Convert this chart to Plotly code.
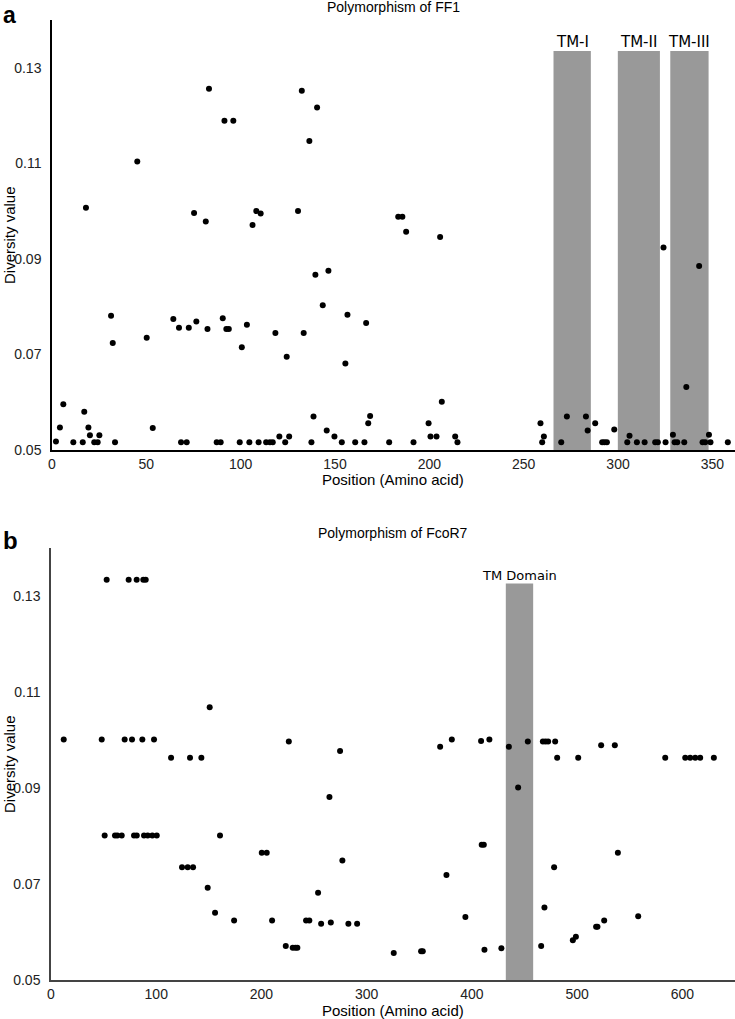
import plotly.graph_objects as go

# ---------------- Data ----------------
# Panel a: Polymorphism of FF1
a_pos = [83.2, 91.4, 96.1, 45.2, 18.0, 75.3, 81.5, 106.3, 108.3, 110.6,
         132.4, 140.5, 136.4, 130.4, 183.5, 185.7, 187.7, 205.7,
         139.6, 146.5, 143.5, 156.6, 166.5,
         31.3, 32.2, 50.2, 64.3, 67.3, 72.5, 76.5, 82.4, 90.5, 92.4, 93.7, 103.3, 100.6,
         118.4, 133.4, 124.4, 155.5, 206.6,
         138.6, 168.6, 167.6, 199.6, 145.6, 149.7, 120.5, 125.7, 200.6, 203.8, 213.7,
         6.0, 4.2, 17.1, 19.3, 20.1, 25.1, 2.1, 53.4,
         11.3, 16.3, 22.4, 24.2, 33.4, 68.4, 71.4, 87.3, 89.4, 99.5, 104.6, 109.5,
         113.5, 115.5, 117.0, 123.6, 137.5, 153.6, 160.7, 165.6, 178.7, 191.6, 214.9,
         259.8, 269.9, 291.6, 292.8, 294.1, 304.9, 310.0, 314.1, 319.7, 321.1, 325.2,
         330.0, 331.4, 335.1, 344.8, 346.2, 349.0, 358.2,
         258.9, 260.7, 272.9, 283.0, 283.9, 287.9, 298.0, 306.1, 324.1, 329.1, 336.2,
         343.0, 348.2]
a_div = [0.1256, 0.1189, 0.1189, 0.1104, 0.1007, 0.0996, 0.0978, 0.0971, 0.1000, 0.0995,
         0.1252, 0.1217, 0.1147, 0.1000, 0.0988, 0.0988, 0.0957, 0.0946,
         0.0867, 0.0875, 0.0803, 0.0783, 0.0766,
         0.0781, 0.0724, 0.0735, 0.0774, 0.0756, 0.0756, 0.0769, 0.0753, 0.0776, 0.0753, 0.0753, 0.0762, 0.0715,
         0.0745, 0.0745, 0.0695, 0.0681, 0.0601,
         0.0570, 0.0571, 0.0556, 0.0556, 0.0541, 0.0528, 0.0528, 0.0528, 0.0528, 0.0528, 0.0528,
         0.0596, 0.0547, 0.0580, 0.0547, 0.0531, 0.0531, 0.0518, 0.0546,
         0.0516, 0.0516, 0.0516, 0.0516, 0.0516, 0.0516, 0.0516, 0.0516, 0.0516, 0.0516, 0.0516, 0.0516,
         0.0516, 0.0516, 0.0516, 0.0516, 0.0516, 0.0516, 0.0516, 0.0516, 0.0516, 0.0516, 0.0516,
         0.0516, 0.0516, 0.0516, 0.0516, 0.0516, 0.0516, 0.0516, 0.0516, 0.0516, 0.0516, 0.0516,
         0.0516, 0.0516, 0.0516, 0.0516, 0.0516, 0.0516, 0.0516,
         0.0556, 0.0528, 0.0570, 0.0570, 0.0541, 0.0556, 0.0543, 0.0530, 0.0924, 0.0532, 0.0632,
         0.0885, 0.0532]
a_tm_names = ["TM-I", "TM-II", "TM-III"]
a_tm_start = [265.8, 299.9, 327.7]
a_tm_end = [285.6, 322.2, 348.0]
a_tm_top = 0.1335

# Panel b: Polymorphism of FcoR7
b_pos = [52.9, 73.8, 81.4, 87.7, 90.0,
         12.1, 48.2, 70.0, 77.0, 86.8, 97.9, 226.0, 380.9, 408.7, 416.6, 453.1, 467.4, 469.9, 472.4, 479.1,
         369.8, 435.1, 522.8, 535.8, 274.7, 150.8,
         114.1, 132.1, 142.9, 481.0, 501.0, 583.7, 602.7, 607.4, 612.2, 616.9, 629.9,
         443.9, 264.6,
         51.0, 60.8, 63.0, 67.2, 78.9, 81.5, 88.4, 91.9, 96.3, 100.5, 160.6,
         409.3, 411.3, 200.3, 205.0, 538.7, 276.9, 124.5, 129.9, 135.0, 478.1,
         375.8, 148.9, 253.8, 468.9, 155.9, 558.0, 393.8,
         174.0, 210.1, 242.4, 245.5, 525.7, 265.9, 256.7, 282.6, 290.9, 518.0, 519.3,
         498.8, 495.9, 223.1, 465.8, 229.7, 232.2, 234.1, 428.0, 411.9, 351.7, 353.3, 325.7]
b_div = [0.1334, 0.1334, 0.1334, 0.1334, 0.1334,
         0.1001, 0.1001, 0.1001, 0.1001, 0.1001, 0.1001, 0.0997, 0.1001, 0.0998, 0.1001, 0.0997, 0.0997, 0.0997, 0.0997, 0.0997,
         0.0986, 0.0986, 0.0989, 0.0989, 0.0977, 0.1068,
         0.0963, 0.0963, 0.0963, 0.0963, 0.0963, 0.0963, 0.0963, 0.0963, 0.0963, 0.0963, 0.0963,
         0.0901, 0.0881,
         0.0801, 0.0801, 0.0801, 0.0801, 0.0801, 0.0801, 0.0801, 0.0801, 0.0801, 0.0801, 0.0801,
         0.0782, 0.0782, 0.0765, 0.0765, 0.0765, 0.0749, 0.0735, 0.0735, 0.0735, 0.0735,
         0.0719, 0.0692, 0.0682, 0.0651, 0.0640, 0.0633, 0.0631,
         0.0624, 0.0624, 0.0624, 0.0624, 0.0624, 0.0620, 0.0617, 0.0617, 0.0617, 0.0611, 0.0611,
         0.0590, 0.0583, 0.0571, 0.0571, 0.0567, 0.0567, 0.0567, 0.0566, 0.0563, 0.0560, 0.0560, 0.0556]
b_tm_names = ["TM Domain"]
b_tm_start = [432.2]
b_tm_end = [458.2]
b_tm_top = 0.1326

y_ticks = [0.05, 0.07, 0.09, 0.11, 0.13]
y_ticklabels = ["0.05", "0.07", "0.09", "0.11", "0.13"]
a_xticks = [0, 50, 100, 150, 200, 250, 300, 350]
b_xticks = [0, 100, 200, 300, 400, 500, 600]

# ---------------- Layout helpers ----------------
W, H = 735, 1019
def px_x(p):
    return p / W
def px_y(p):
    return 1 - p / H

FONT = "Liberation Sans, Arial, sans-serif"
TMFONT = "DejaVu Sans, Verdana, sans-serif"

fig = go.Figure()
fig.add_trace(go.Scatter(x=a_pos, y=a_div, mode="markers",
                         marker=dict(color="black", size=6), xaxis="x", yaxis="y",
                         showlegend=False, hoverinfo="x+y"))
fig.add_trace(go.Scatter(x=b_pos, y=b_div, mode="markers",
                         marker=dict(color="black", size=6), xaxis="x2", yaxis="y2",
                         showlegend=False, hoverinfo="x+y"))

shapes = []
annotations = []
for name, s, e in zip(a_tm_names, a_tm_start, a_tm_end):
    shapes.append(dict(type="rect", xref="x", yref="y", x0=s, x1=e, y0=0.05, y1=a_tm_top,
                       fillcolor="#999999", line=dict(width=0), layer="below"))
    annotations.append(dict(x=(s + e) / 2, y=a_tm_top, xref="x", yref="y", text=name,
                            showarrow=False, yanchor="bottom", yshift=-2,
                            font=dict(family=TMFONT, size=15, color="black")))
for name, s, e in zip(b_tm_names, b_tm_start, b_tm_end):
    shapes.append(dict(type="rect", xref="x2", yref="y2", x0=s, x1=e, y0=0.05, y1=b_tm_top,
                       fillcolor="#999999", line=dict(width=0), layer="below"))
    annotations.append(dict(x=(s + e) / 2, y=b_tm_top, xref="x2", yref="y2", text=name,
                            showarrow=False, yanchor="bottom", yshift=-1,
                            font=dict(family=TMFONT, size=13, color="black")))

# Titles, panel letters, axis titles
annotations += [
    dict(text="<b>a</b>", x=px_x(1), y=px_y(0), xref="paper", yref="paper", xanchor="left",
         yanchor="top", showarrow=False, font=dict(family=FONT, size=23, color="black")),
    dict(text="<b>b</b>", x=px_x(1), y=px_y(525), xref="paper", yref="paper", xanchor="left",
         yanchor="top", showarrow=False, font=dict(family=FONT, size=24, color="black")),
    dict(text="Polymorphism of FF1", x=px_x(393), y=px_y(7), xref="paper", yref="paper",
         xanchor="center", yanchor="middle", showarrow=False,
         font=dict(family=FONT, size=14, color="black")),
    dict(text="Polymorphism of FcoR7", x=px_x(393), y=px_y(533), xref="paper", yref="paper",
         xanchor="center", yanchor="middle", showarrow=False,
         font=dict(family=FONT, size=14, color="black")),
    dict(text="Position (Amino acid)", x=px_x(393), y=px_y(479), xref="paper", yref="paper",
         xanchor="center", yanchor="middle", showarrow=False,
         font=dict(family=FONT, size=15, color="black")),
    dict(text="Position (Amino acid)", x=px_x(393), y=px_y(1010), xref="paper", yref="paper",
         xanchor="center", yanchor="middle", showarrow=False,
         font=dict(family=FONT, size=15, color="black")),
    dict(text="Diversity value", x=px_x(9), y=px_y(235), xref="paper", yref="paper",
         xanchor="center", yanchor="middle", showarrow=False, textangle=-90,
         font=dict(family=FONT, size=15, color="black")),
    dict(text="Diversity value", x=px_x(9), y=px_y(764), xref="paper", yref="paper",
         xanchor="center", yanchor="middle", showarrow=False, textangle=-90,
         font=dict(family=FONT, size=15, color="black")),
]

tickfont = dict(family=FONT, size=14, color="#222222")
common_x = dict(showgrid=False, zeroline=False, showline=True, ticks="", tickfont=tickfont,
                linewidth=1.5, automargin=False)
common_y = dict(showgrid=False, zeroline=False, showline=True, ticks="", tickfont=tickfont,
                linewidth=1.5, range=[0.05, 0.14], tickvals=y_ticks, ticktext=y_ticklabels,
                ticklabelstandoff=6, automargin=False)

fig.update_layout(
    width=W, height=H, margin=dict(l=0, r=0, t=0, b=0, pad=0),
    paper_bgcolor="white", plot_bgcolor="white",
    xaxis=dict(domain=[px_x(52), 1.0], anchor="y", range=[0, 362], tickvals=a_xticks,
               linecolor="black", **common_x),
    yaxis=dict(domain=[px_y(450), px_y(20)], anchor="x", linecolor="black", **common_y),
    xaxis2=dict(domain=[px_x(51), 1.0], anchor="y2", range=[0, 650], tickvals=b_xticks,
                linecolor="#444444", **common_x),
    yaxis2=dict(domain=[px_y(980), px_y(548)], anchor="x2", linecolor="#444444", **common_y),
    shapes=shapes, annotations=annotations,
)

fig.write_html("out.html", config={"displayModeBar": False},
               post_script="document.body.style.margin='0';document.body.style.padding='0';"
                           "document.body.style.overflow='hidden';")
